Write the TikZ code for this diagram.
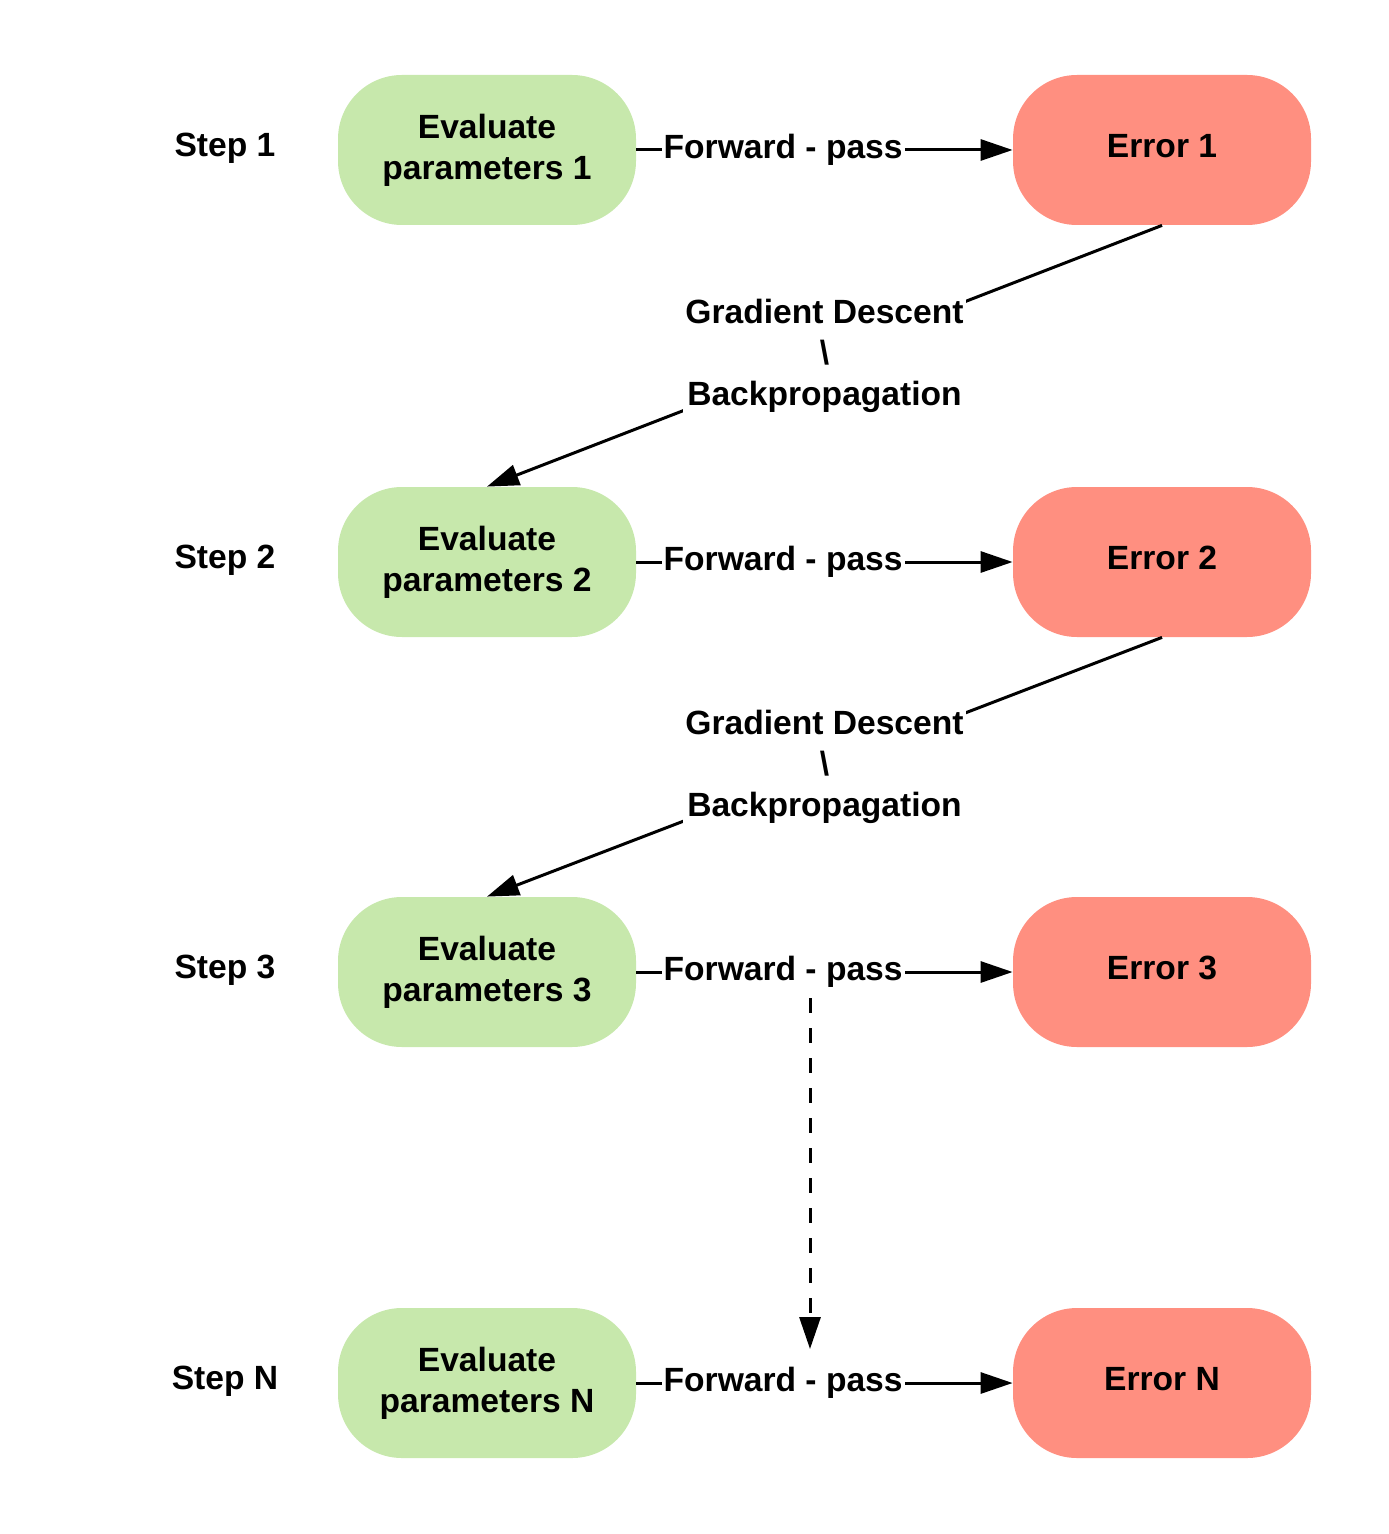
\documentclass[tikz,border=0pt]{standalone}
\usepackage{fontspec}
\setmainfont{Liberation Sans}
\usetikzlibrary{arrows.meta}
\definecolor{evalgreen}{HTML}{C7E8AC}
\definecolor{errred}{HTML}{FF8F80}

\begin{document}
\begin{tikzpicture}[x=0.5pt,y=-0.5pt,
    every node/.style={font=\bfseries\fontsize{16.8}{20.5}\selectfont,align=center},
    evalbox/.style={rounded corners=32pt,fill=evalgreen,minimum width=149pt,minimum height=75pt},
    errbox/.style={rounded corners=32pt,fill=errred,minimum width=149pt,minimum height=75pt,text depth=4pt},
    flow/.style={line width=1.5pt,-{Triangle[length=16pt,width=10.5pt]}},
    gap/.style={fill=white,inner sep=1pt}]
    \useasboundingbox (0,0) rectangle (1388,1534);

    \node (S1) at (225,148) {Step 1};
    \node (S2) at (225,560) {Step 2};
    \node (S3) at (225,970) {Step 3};
    \node (SN) at (225,1381) {Step N};

    \node[evalbox] (P1) at (487,150) {Evaluate\\parameters 1};
    \node[evalbox] (P2) at (487,562) {Evaluate\\parameters 2};
    \node[evalbox] (P3) at (487,972) {Evaluate\\parameters 3};
    \node[evalbox] (PN) at (487,1383) {Evaluate\\parameters N};

    \node[errbox] (E1) at (1162,150) {Error 1};
    \node[errbox] (E2) at (1162,562) {Error 2};
    \node[errbox] (E3) at (1162,972) {Error 3};
    \node[errbox] (EN) at (1162,1383) {Error N};

    \coordinate (D1) at (810,998);
    \coordinate (D2) at (810,1349);

    \path[flow] (P1) edge node[gap,pos=0.39] {Forward - pass} (E1);
    \path[flow] (P2) edge node[gap,pos=0.39] {Forward - pass} (E2);
    \path[flow] (P3) edge node[gap,pos=0.39] {Forward - pass} (E3);
    \path[flow] (PN) edge node[gap,pos=0.39] {Forward - pass} (EN);

    \path[flow] (E1.south) edge node[gap] {Gradient Descent\\\textbackslash\\Backpropagation} (P2.north);
    \path[flow] (E2.south) edge node[gap] {Gradient Descent\\\textbackslash\\Backpropagation} (P3.north);
    \path[flow,dash pattern=on 7.5pt off 7.5pt] (D1) edge (D2);
  \end{tikzpicture}
\end{document}
